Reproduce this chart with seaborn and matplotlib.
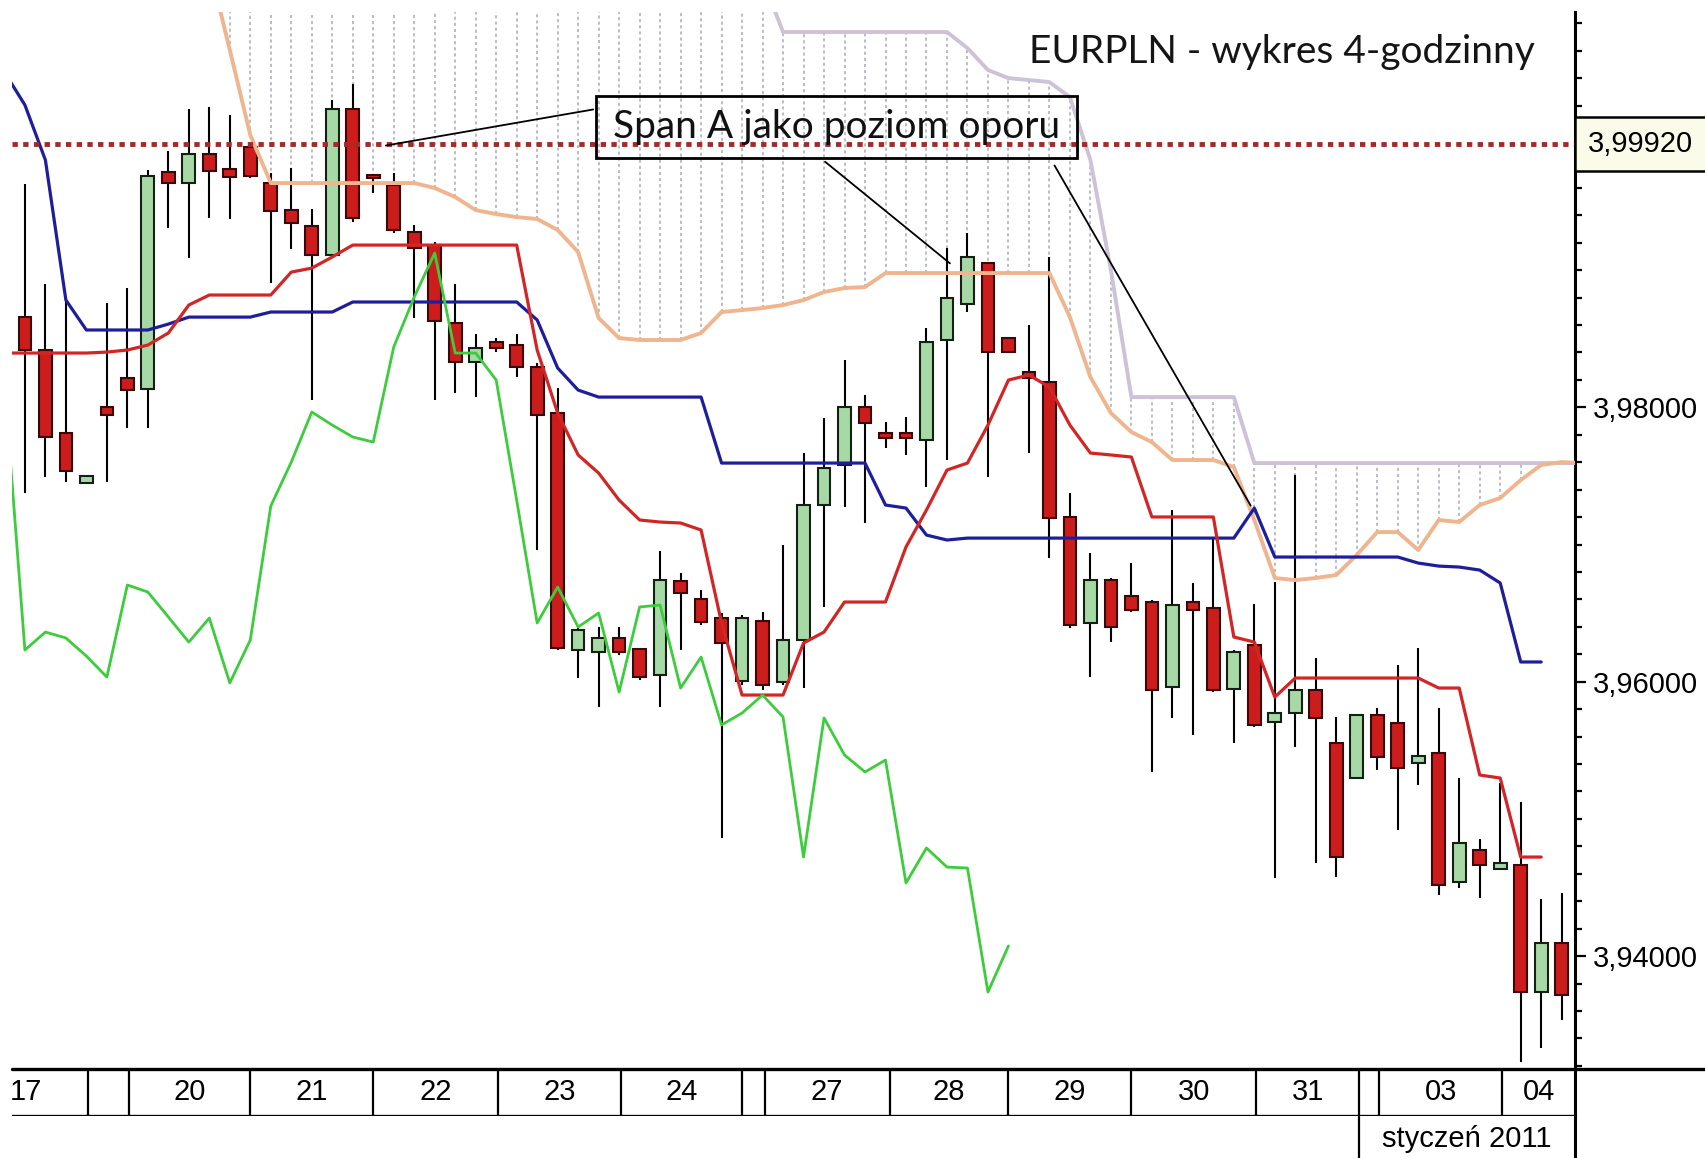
import numpy as np
import matplotlib
matplotlib.use("Agg")
import matplotlib.pyplot as plt
from matplotlib.patches import Rectangle
from matplotlib.ticker import FuncFormatter
import seaborn as sns

# 4h candles, EURPLN 17.12.2010 - 04.01.2011
opens = [3.98658, 3.98418, 3.97813, 3.97448, 3.98002, 3.98214, 3.98134, 3.99715, 3.99635, 3.99847,
         3.99737, 3.99897, 3.99635, 3.99438, 3.99322, 3.99110, 4.00175, 3.99693, 3.99621, 3.99278,
         3.99183, 3.98615, 3.98330, 3.98476, 3.98454, 3.98294, 3.97959, 3.96231, 3.96217, 3.96319,
         3.96238, 3.96049, 3.96734, 3.96603, 3.96464, 3.96005, 3.96443, 3.95998, 3.96304, 3.97288,
         3.97580, 3.98002, 3.97813, 3.97813, 3.97762, 3.98491, 3.98753, 3.99052, 3.98505, 3.98257,
         3.98185, 3.97201, 3.96428, 3.96741, 3.96625, 3.96581, 3.95962, 3.96581, 3.96537, 3.95947,
         3.96268, 3.95706, 3.95772, 3.95940, 3.95553, 3.95298, 3.95757, 3.95699, 3.95408, 3.95480,
         3.94540, 3.94773, 3.94635, 3.94664, 3.93738, 3.94095]
highs = [3.99628, 3.98899, 3.98782, 3.97499, 3.98760, 3.98870, 3.99730, 3.99868, 4.00175, 4.00189,
         4.00131, 3.99912, 3.99708, 3.99744, 3.99446, 4.00240, 4.00357, 3.99693, 3.99708, 3.99329,
         3.99205, 3.98899, 3.98534, 3.98505, 3.98534, 3.98323, 3.98141, 3.96392, 3.96399, 3.96399,
         3.96238, 3.96953, 3.96792, 3.96669, 3.96501, 3.96486, 3.96508, 3.96997, 3.97667, 3.97922,
         3.98345, 3.98090, 3.97893, 3.97930, 3.98578, 3.99161, 3.99271, 3.99059, 3.98505, 3.98600,
         3.99096, 3.97376, 3.96938, 3.96756, 3.96865, 3.96596, 3.97252, 3.96720, 3.97047, 3.96231,
         3.96566, 3.96727, 3.97507, 3.96173, 3.95743, 3.95757, 3.95808, 3.96122, 3.96246, 3.95808,
         3.95298, 3.94853, 3.95262, 3.95123, 3.94416, 3.94460]
lows = [3.97376, 3.97492, 3.97456, 3.97448, 3.97456, 3.97849, 3.97849, 3.99307, 3.99088, 3.99380,
        3.99373, 3.99672, 3.98906, 3.99154, 3.98053, 3.99088, 3.99351, 3.99562, 3.99271, 3.98651,
        3.98053, 3.98104, 3.98075, 3.98403, 3.98221, 3.96960, 3.96231, 3.96027, 3.95816, 3.96195,
        3.96012, 3.95816, 3.96231, 3.96413, 3.94861, 3.95976, 3.95940, 3.95976, 3.95954, 3.96545,
        3.97274, 3.97157, 3.97704, 3.97653, 3.97419, 3.97616, 3.98695, 3.97492, 3.98403, 3.97667,
        3.96902, 3.96392, 3.96034, 3.96289, 3.96508, 3.95342, 3.95736, 3.95612, 3.95925, 3.95553,
        3.95670, 3.94569, 3.95524, 3.94679, 3.94577, 3.95298, 3.95356, 3.94919, 3.95247, 3.94445,
        3.94496, 3.94423, 3.94635, 3.93228, 3.93330, 3.93534]
closes = [3.98418, 3.97784, 3.97536, 3.97499, 3.97944, 3.98126, 3.99686, 3.99635, 3.99847, 3.99723,
          3.99679, 3.99686, 3.99431, 3.99344, 3.99110, 4.00175, 3.99380, 3.99672, 3.99293, 3.99161,
          3.98629, 3.98330, 3.98432, 3.98432, 3.98294, 3.97944, 3.96246, 3.96377, 3.96319, 3.96217,
          3.96034, 3.96741, 3.96647, 3.96435, 3.96282, 3.96464, 3.95976, 3.96304, 3.97288, 3.97558,
          3.98002, 3.97886, 3.97776, 3.97776, 3.98476, 3.98797, 3.99096, 3.98403, 3.98403, 3.98214,
          3.97193, 3.96413, 3.96741, 3.96399, 3.96523, 3.95940, 3.96559, 3.96523, 3.95940, 3.96217,
          3.95685, 3.95772, 3.95940, 3.95736, 3.94722, 3.95757, 3.95451, 3.95371, 3.95459, 3.94518,
          3.94824, 3.94664, 3.94679, 3.93738, 3.94095, 3.93716]

# Ichimoku lines (first value sits at the given candle index)
tenkan_start = -1
tenkan = ([3.98396] * 5 + [3.98403, 3.98418, 3.98454, 3.98542, 3.98746]
          + [3.98819] * 4 + [3.98986, 3.99015, 3.99096] + [3.99183] * 9
          + [3.98418, 3.97959, 3.97653, 3.97521, 3.97324, 3.97179, 3.97164, 3.97157, 3.97106, 3.96428]
          + [3.95903] * 3 + [3.96282, 3.96362] + [3.96581] * 3
          + [3.96982, 3.97252, 3.97543, 3.97594, 3.97871, 3.98199, 3.98236, 3.98148, 3.97871,
             3.97667, 3.97653, 3.97638] + [3.97201] * 4
          + [3.96326, 3.96289, 3.95888] + [3.96027] * 7
          + [3.95954, 3.95954, 3.95320, 3.95298, 3.94722, 3.94722])
kijun_start = -1
kijun = ([4.00444, 4.00204, 3.99803, 3.98782] + [3.98564] * 4 + [3.98607] + [3.98658] * 4
         + [3.98695] * 4 + [3.98768] * 9 + [3.98637, 3.98287, 3.98126] + [3.98075] * 6
         + [3.97594] * 8 + [3.97288, 3.97266, 3.97069, 3.97033] + [3.97047] * 14
         + [3.97266] + [3.96909] * 7 + [3.96865, 3.96843, 3.96836, 3.96814, 3.96720, 3.96144, 3.96144])
chikou_start = -1
chikou = [3.98177, 3.96231, 3.96362, 3.96319, 3.96187, 3.96034, 3.96705, 3.96654, 3.96472, 3.96289,
          3.96464, 3.95991, 3.96304, 3.97281, 3.97601, 3.97966, 3.97871, 3.97784, 3.97747, 3.98440,
          3.98804, 3.99125, 3.98396, 3.98396, 3.98199, 3.97324, 3.96428, 3.96690, 3.96399, 3.96501,
          3.95925, 3.96545, 3.96559, 3.95954, 3.96180, 3.95685, 3.95772, 3.95903, 3.95743, 3.94722,
          3.95736, 3.95466, 3.95342, 3.95429, 3.94533, 3.94788, 3.94649, 3.94642, 3.93738, 3.94074]
span_start = 9
span_a = ([4.01217, 4.00605, 3.99985] + [3.99635] * 8
          + [3.99599, 3.99533, 3.99438, 3.99409, 3.99387, 3.99373, 3.99293, 3.99132, 3.98651, 3.98505]
          + [3.98491] * 3 + [3.98542, 3.98695, 3.98709, 3.98724, 3.98746, 3.98782, 3.98841, 3.98870, 3.98877]
          + [3.98979] * 9 + [3.98658, 3.98221, 3.97959, 3.97820, 3.97747] + [3.97616] * 3
          + [3.97565, 3.97179, 3.96756, 3.96741, 3.96756, 3.96778, 3.96924, 3.97091, 3.97091, 3.96960,
             3.97179, 3.97164, 3.97288, 3.97339, 3.97470, 3.97580, 3.97601, 3.97594])
span_b = ([4.0112] * 28 + [4.00736] * 9
          + [4.00619, 4.00459, 4.00400, 4.00386, 4.00371, 4.00262, 3.99803, 3.99001]
          + [3.98075] * 6 + [3.97594] * 17)

resistance = 3.9992
major_ticks = [3.94, 3.96, 3.98]
day_labels = ['17', '', '20', '21', '22', '23', '24', '', '27', '28', '29', '30', '31', '', '03', '04']
day_bounds = [-3.0, 3.1, 5.1, 11.0, 17.0, 23.1, 29.1, 35.0, 36.1, 42.2, 48.0, 54.0,
              60.1, 65.1, 66.1, 72.1, 75.65]
month_label = 'styczeń 2011'
month_start = 65.1

GREEN_BODY = '#a6d9a6'
RED_BODY = '#cc1c1c'
W, H = 1705, 1158


def fig_box(x0, y0, x1, y1):
    return [x0 / W, 1 - y1 / H, (x1 - x0) / W, (y1 - y0) / H]


def comma_fmt(v, _):
    return f'{v:.5f}'.replace('.', ',')


sns.set_theme(style="white")
plt.rcParams['font.family'] = ['Liberation Sans', 'DejaVu Sans']

fig = plt.figure(figsize=(W / 100, H / 100), dpi=100)
ax = fig.add_axes(fig_box(12, 12, 1575, 1069))
axd = fig.add_axes(fig_box(12, 1069, 1575, 1116))
axm = fig.add_axes(fig_box(12, 1116, 1575, 1158))

xlim = (-0.63, 75.65)
ax.set_xlim(*xlim)
ax.set_ylim(3.93177, 4.00882)

# cloud hatch
xs = np.arange(span_start, span_start + len(span_a))
ax.vlines(xs, span_a, span_b, colors='#a9a9b6', linestyles=(0, (2, 2)), lw=1.1, zorder=1)

# candles
idx = np.arange(len(opens))
o, h, l, c = map(np.array, (opens, highs, lows, closes))
up = c >= o
ax.vlines(idx, l, h, color='black', lw=1.5, zorder=2)
ax.bar(idx[up], (c - o)[up], bottom=o[up], width=0.62, color=GREEN_BODY,
       edgecolor='#142014', linewidth=1.5, zorder=3)
ax.bar(idx[~up], (c - o)[~up], bottom=o[~up], width=0.62, color=RED_BODY,
       edgecolor='#3a0808', linewidth=1.5, zorder=3)


def draw_line(start, values, color, lw):
    x = np.arange(start, start + len(values))
    sns.lineplot(x=x, y=values, ax=ax, color=color, linewidth=lw, zorder=4, legend=False,
                 solid_joinstyle='round', solid_capstyle='round')


draw_line(span_start, span_b, '#cdc2d6', 2.8)
draw_line(span_start, span_a, '#efb58e', 2.8)
draw_line(kijun_start, kijun, '#1e1e9a', 2.3)
draw_line(tenkan_start, tenkan, '#d22626', 2.3)
draw_line(chikou_start, chikou, '#3ccc3c', 2.0)

ax.axhline(resistance, color='#a32a2a', lw=3.5, ls=(0, (1.1, 1.1)), zorder=5)

# annotation box with pointers
ax.add_patch(Rectangle((27.87, 3.99817), 23.48, 0.00452, fill=False, ec='black', lw=2, zorder=6))
ax.text(39.6, 4.00043, 'Span A jako poziom oporu', ha='center', va='center', fontsize=28,
        family=['Lato', 'DejaVu Sans'], color='#111111', zorder=6)
pointers = [((27.87, 4.00175), (17.48, 3.99905)),
            ((38.95, 3.99803), (45.25, 3.99037)),
            ((50.18, 3.99781), (59.89, 3.97266))]
for start, end in pointers:
    ax.annotate('', xy=end, xytext=start,
                arrowprops=dict(arrowstyle='-', color='black', lw=1.3), zorder=6)

ax.text(0.9744, 0.9518, 'EURPLN - wykres 4-godzinny', transform=ax.transAxes, ha='right',
        va='baseline', fontsize=28, family=['Lato', 'DejaVu Sans'], color='#151515')

# right axis
for side in ['left', 'top', 'bottom']:
    ax.spines[side].set_visible(False)
ax.spines['right'].set_color('black')
ax.spines['right'].set_linewidth(2.2)
ax.set_xticks([])
ax.yaxis.tick_right()
ax.set_yticks(major_ticks)
ax.set_yticks(np.arange(3.932, 4.009, 0.002), minor=True)
ax.yaxis.set_major_formatter(FuncFormatter(comma_fmt))
ax.tick_params(axis='y', which='major', length=8, width=1.6, direction='out', pad=5,
               labelsize=21, colors='black', right=True)
ax.tick_params(axis='y', which='minor', length=5, width=1.6, direction='out', right=True,
               colors='black')
ax.text(1.0083, resistance, comma_fmt(resistance, None), transform=ax.get_yaxis_transform(),
        ha='left', va='center', fontsize=21, color='black', clip_on=False, zorder=10,
        bbox=dict(boxstyle='square,pad=0.45', fc='#fbfbea', ec='black', lw=1.8))

# date strip
for a in (axd, axm):
    a.set_xlim(*xlim)
    a.set_ylim(0, 1)
    a.set_xticks([])
    a.set_yticks([])
    for side in ['left', 'top', 'bottom']:
        a.spines[side].set_visible(False)
    a.spines['right'].set_color('black')
    a.spines['right'].set_linewidth(2.2)

axd.axhline(1, xmin=0, xmax=(W - 12) / 1563, color='black', lw=2.4, clip_on=False)
axd.axhline(0, color='black', lw=2.4)
axd.vlines(day_bounds[1:-1], 0, 1, color='black', lw=1.6)
for lab, a, b in zip(day_labels, day_bounds[:-1], day_bounds[1:]):
    if lab:
        t = axd.text((a + b) / 2, 0.5, lab, ha='center', va='center', fontsize=21,
                     color='black')
        t.set_clip_on(True)
        t.set_clip_box(axd.bbox)

axm.vlines([month_start], 0, 1, color='black', lw=1.6)
axm.text((month_start + xlim[1]) / 2, 0.45, month_label, ha='center', va='center',
         fontsize=21, color='black')

fig.savefig('out.png', dpi=100)
plt.close(fig)
